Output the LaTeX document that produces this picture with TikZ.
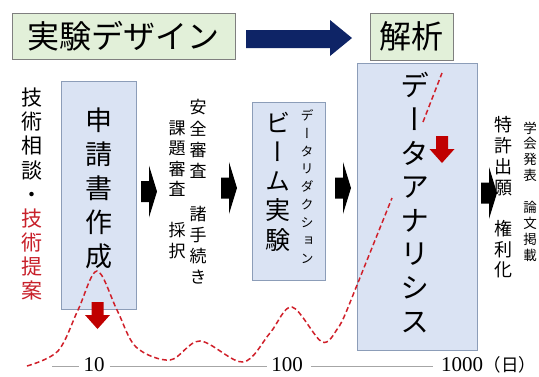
\documentclass[tikz,border=0pt]{standalone}
\usepackage{fontspec}
\usepackage{graphicx}
\newfontfamily\jp{Noto Sans CJK JP}
\newfontfamily\jpv[RawFeature=+vert]{Noto Sans CJK JP}
\newfontfamily\numf{Liberation Serif}
\definecolor{boxblue}{HTML}{DAE3F3}
\definecolor{boxedge}{HTML}{8C9DB8}
\definecolor{boxgreen}{HTML}{E2F0D9}
\definecolor{greenedge}{HTML}{7F7F7F}
\definecolor{navyarrow}{HTML}{0E2466}
\definecolor{arrowred}{HTML}{C00000}
\definecolor{curvered}{HTML}{D0202A}
\definecolor{techred}{HTML}{C8202A}
\definecolor{axisgray}{HTML}{A6A6A6}
\newcommand\fsz[2]{\fontsize{#1}{#2}\selectfont}
\tikzset{
  bluebox/.style={draw=boxedge, fill=boxblue, line width=0.8pt, inner sep=0pt},
  greenbox/.style={draw=greenedge, fill=boxgreen, line width=0.8pt, inner sep=0pt},
  vcol/.style={align=center, inner sep=0pt},
  numlabel/.style={font=\numf\fsz{21}{24}, inner sep=0pt},
  axisline/.style={draw=axisgray, line width=0.8pt},
  pics/blkarrow/.style={code={
    \fill[black] (0,-10.5) -- (8,-10.5) -- (8,-26) -- (16,0) -- (8,26) -- (8,10.5) -- (0,10.5) -- cycle;}},
  pics/redarrow/.style={code={
    \fill[arrowred] (-6,0) -- (6,0) -- (6,13) -- (12.5,13) -- (0,27) -- (-12.5,13) -- (-6,13) -- cycle;}},
}
\begin{document}
\begin{tikzpicture}[x=1pt,y=-1pt]
\useasboundingbox (0,0) rectangle (539,376);
\fill[white] (0,0) rectangle (539,376);

% top boxes
\node[greenbox, minimum width=223pt, minimum height=46pt] (design) at (123.5,36) {};
\node[font=\jp\fsz{32}{36}, inner sep=0pt] (designtxt) at (123.5,36) {実験デザイン};
\node[greenbox, minimum width=83pt, minimum height=47pt] (anal) at (411.5,36.5) {};
\node[font=\jp\fsz{32}{36}, inner sep=0pt] (analtxt) at (411.5,36.5) {解析};
\fill[navyarrow] (246,30) -- (330,30) -- (330,20) -- (352,38) -- (330,56) -- (330,48) -- (246,48) -- cycle;

% main boxes
\node[bluebox, minimum width=75pt, minimum height=228pt] (apply) at (98.5,195) {};
\node[bluebox, minimum width=73pt, minimum height=178pt] (beam) at (288.5,191) {};
\node[bluebox, minimum width=120pt, minimum height=287pt] (data) at (417,206.5) {};

% left column
\node[vcol, font=\jpv\fsz{21}{24.2}] (consult) at (32,145) {技\\術\\相\\談\\・};
\node[vcol, font=\jpv\fsz{21}{24.2}, text=techred] (propose) at (32,254.5) {技\\術\\提\\案};

% apply text
\node[vcol, font=\jpv\fsz{27}{34}] (applytxt) at (98.5,188) {申\\請\\書\\作\\成};

% review columns
\node[vcol, font=\jpv\fsz{17}{21.25}] (safety) at (198,192) {安\\全\\審\\査\\　\\諸\\手\\続\\き};
\node[vcol, font=\jpv\fsz{17}{20.5}] (review) at (177,189.5) {課\\題\\審\\査\\　\\採\\択};

% beam text
\node[vcol, font=\jpv\fsz{25}{29.25}] (beamtxt) at (278,181.5) {ビ\\ー\\ム\\実\\験};
\node[vcol, font=\jpv\fsz{13}{17.9}] (reduce) at (307,186.5) {デ\\ー\\タ\\リ\\ダ\\ク\\シ\\ョ\\ン};

% data analysis text
\node[vcol, font=\jpv\fsz{29}{33.6}] (datatxt) at (415,202.5) {デ\\ー\\タ\\ア\\ナ\\リ\\シ\\ス};

% results columns
\node[vcol, font=\jpv\fsz{18}{20.7}] (patent) at (503,197.5) {特\\許\\出\\願\\　\\権\\利\\化};
\node[vcol, font=\jpv\fsz{13.5}{15.9}] (paper) at (530,191.5) {学\\会\\発\\表\\　\\論\\文\\掲\\載};

% black block arrows
\pic at (141,191.5) {blkarrow};
\pic at (221,188) {blkarrow};
\pic at (335,188) {blkarrow};
\pic at (481,193) {blkarrow};

% red arrows
\pic at (97.5,302) {redarrow};
\pic at (442,136) {redarrow};

% dashed red curve
\draw[curvered, line width=1.5pt, dash pattern=on 5pt off 3pt]
  plot[smooth, tension=0.55] coordinates {(27,366) (58,351) (78,310) (97,271) (117,310) (136,347) (170,360) (200,341) (243,362) (270,333) (292,307) (322,342) (338,328) (347,310)}
  -- (392,198);
\draw[curvered, line width=1.5pt, dash pattern=on 5pt off 3pt] (423,122) -- (442,73);

% axis
\node[numlabel] (t10) at (94,365) {10};
\node[numlabel] (t100) at (287,365) {100};
\node[numlabel] (t1000) at (462,365) {1000};
\node[font=\jp\fsz{17.5}{20}, inner sep=0pt] (days) at (510,365) {（日）};
\coordinate (axstart) at (52,366);
\draw[axisline] (axstart) -- ([xshift=-4pt]t10.west |- axstart);
\draw[axisline] ([xshift=5pt]t10.east |- axstart) -- ([xshift=-4pt]t100.west |- axstart);
\draw[axisline] ([xshift=8pt]t100.east |- axstart) -- ([xshift=-8pt]t1000.west |- axstart);
\end{tikzpicture}
\end{document}
